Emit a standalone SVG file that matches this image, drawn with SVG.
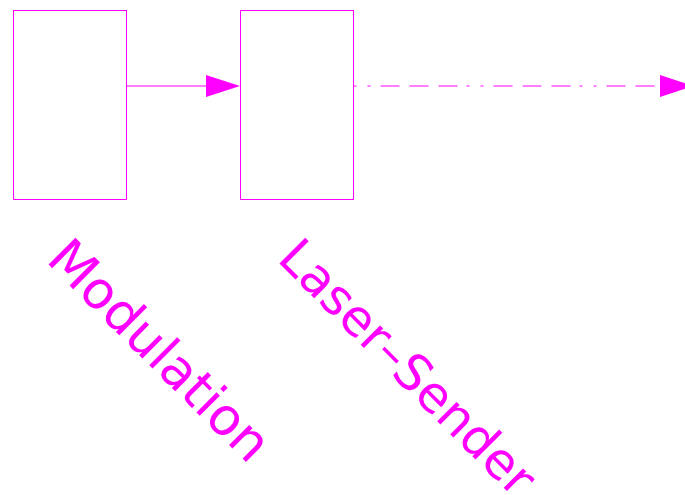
<svg xmlns="http://www.w3.org/2000/svg" width="685" height="495" viewBox="0 0 685 495">
  <style>
    .box { fill: #ffffff; stroke: #ff00ff; stroke-width: 1; }
    .line { stroke: #ff00ff; stroke-width: 1; fill: none; }
    .dashdot { stroke-dasharray: 3 11 3 10 19 10 19 10 19 9; }
    .head { fill: #ff00ff; stroke: none; }
    .label { font-family: "DejaVu Sans", sans-serif; font-size: 52px; fill: #ff00ff; }
    .label.narrow { font-size: 50px; }
  </style>
  <rect width="685" height="495" fill="#ffffff"/>

  <g id="connectors">
    <line class="line" x1="126.5" y1="86" x2="207" y2="86"/>
    <polygon class="head" points="206,75 240,86 206,97"/>
    <line class="line dashdot" x1="353.5" y1="86" x2="661" y2="86"/>
    <polygon class="head" points="660,75 693,86 660,97"/>
  </g>

  <g id="modulation">
    <rect class="box" x="13.5" y="10.5" width="113" height="189"/>
    <text class="label" transform="translate(45,261) rotate(45)">Modulation</text>
  </g>

  <g id="laser-sender">
    <rect class="box" x="240.5" y="10.5" width="113" height="189"/>
    <text class="label narrow" transform="translate(276,260) rotate(45)">Laser–Sender</text>
  </g>
</svg>
